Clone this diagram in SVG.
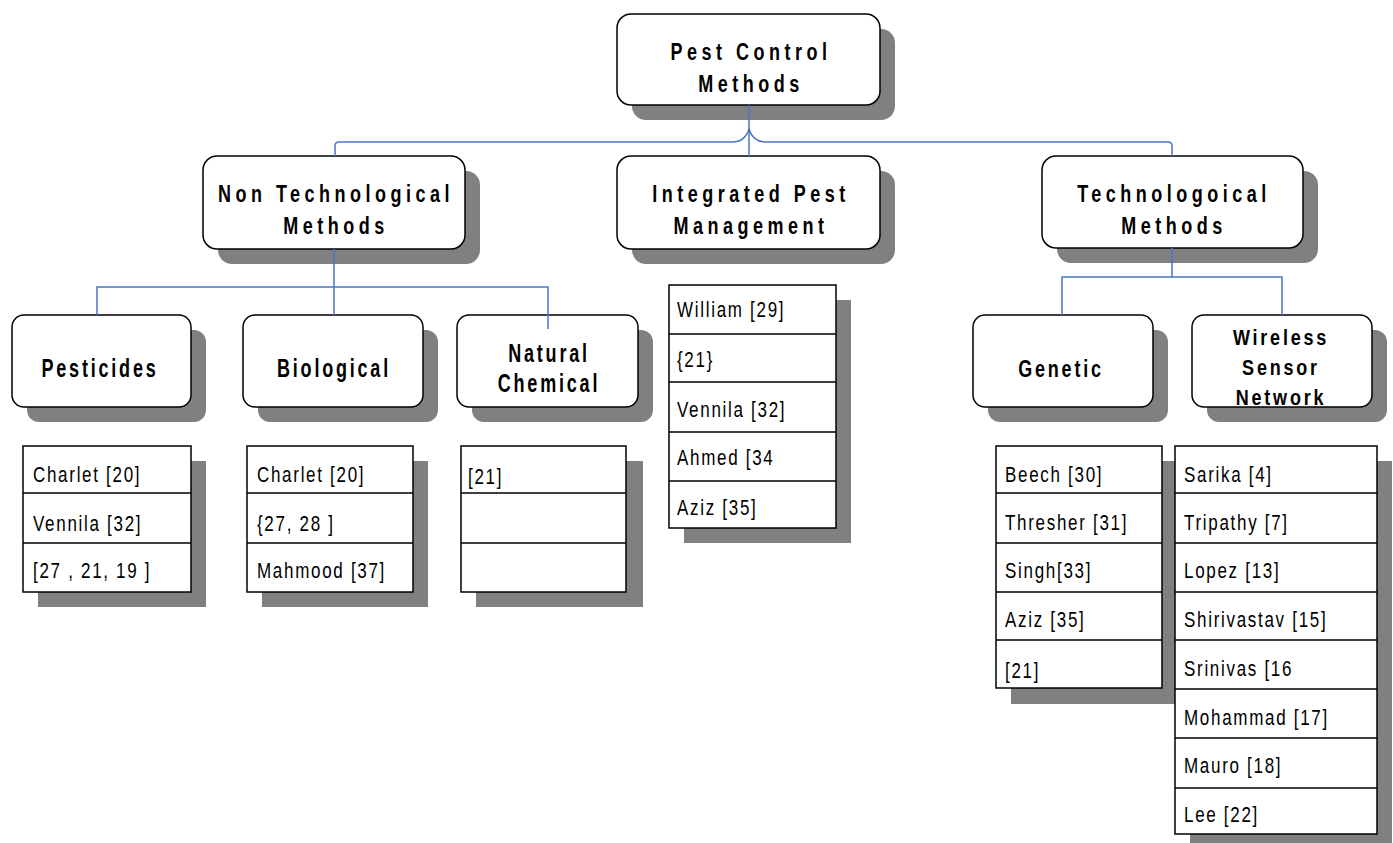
<svg xmlns="http://www.w3.org/2000/svg" width="1393" height="843" viewBox="0 0 1393 843">
<style>
.shadow{fill:#808080}
.node{fill:#fff;stroke:#000;stroke-width:1.5}
.cell{fill:#fff;stroke:#000;stroke-width:1.5}
.div{stroke:#000;stroke-width:1.5}
.title{font-family:"Liberation Sans",Arial,sans-serif;font-weight:bold;font-size:18px;fill:#000;text-anchor:middle;letter-spacing:4.5px}
.sub{font-family:"Liberation Sans",Arial,sans-serif;font-weight:bold;font-size:18px;fill:#000;text-anchor:middle;letter-spacing:2.8px}
.item{font-family:"Liberation Sans",Arial,sans-serif;font-size:17px;fill:#000;letter-spacing:1.7px}
.conn{fill:none;stroke:#4a76c5;stroke-width:1.5}
</style>
<rect width="1393" height="843" fill="#fff"/>

<g id="pest-control-methods">
<rect class="shadow" x="632" y="29" width="263" height="91" rx="14"/>
<rect class="node" x="617" y="14" width="263" height="91" rx="14"/>
<text class="title" transform="translate(751,60) scale(1,1.3)">Pest Control</text>
<text class="title" transform="translate(751,92) scale(1,1.3)">Methods</text>
</g>

<g id="non-technological-methods">
<rect class="shadow" x="218" y="171" width="262" height="93" rx="14"/>
<rect class="node" x="203" y="156" width="262" height="93" rx="14"/>
<text class="title" transform="translate(336,202) scale(1,1.3)">Non Technological</text>
<text class="title" transform="translate(336,234) scale(1,1.3)">Methods</text>
</g>

<g id="integrated-pest-management">
<rect class="shadow" x="632" y="171" width="263" height="93" rx="14"/>
<rect class="node" x="617" y="156" width="263" height="93" rx="14"/>
<text class="title" transform="translate(751,202) scale(1,1.3)">Integrated Pest</text>
<text class="title" transform="translate(751,234) scale(1,1.3)">Management</text>
</g>

<g id="technological-methods">
<rect class="shadow" x="1057" y="171" width="261" height="92" rx="14"/>
<rect class="node" x="1042" y="156" width="261" height="92" rx="14"/>
<text class="title" transform="translate(1174,202) scale(1,1.3)">Technologoical</text>
<text class="title" transform="translate(1174,234) scale(1,1.3)">Methods</text>
</g>

<g id="pesticides">
<rect class="shadow" x="27" y="330" width="179" height="92" rx="12"/>
<rect class="node" x="12" y="315" width="179" height="92" rx="12"/>
<text class="sub" transform="translate(100,377) scale(1,1.42)">Pesticides</text>
</g>

<g id="biological">
<rect class="shadow" x="258" y="330" width="180" height="92" rx="12"/>
<rect class="node" x="243" y="315" width="180" height="92" rx="12"/>
<text class="sub" transform="translate(334,377) scale(1,1.42)">Biological</text>
</g>

<g id="natural-chemical">
<rect class="shadow" x="472" y="330" width="181" height="92" rx="12"/>
<rect class="node" x="457" y="315" width="181" height="92" rx="12"/>
<text class="sub" transform="translate(549,362) scale(1,1.38)">Natural</text>
<text class="sub" transform="translate(549,392) scale(1,1.38)">Chemical</text>
</g>

<g id="genetic">
<rect class="shadow" x="988" y="330" width="180" height="92" rx="12"/>
<rect class="node" x="973" y="315" width="180" height="92" rx="12"/>
<text class="sub" transform="translate(1061,377) scale(1,1.32)">Genetic</text>
</g>

<g id="wireless-sensor-network">
<rect class="shadow" x="1207" y="330" width="180" height="92" rx="12"/>
<rect class="node" x="1192" y="315" width="180" height="92" rx="12"/>
<text class="sub" transform="translate(1281,345) scale(1,1.25)">Wireless</text>
<text class="sub" transform="translate(1281,375) scale(1,1.25)">Sensor</text>
<text class="sub" transform="translate(1281,405) scale(1,1.25)">Network</text>
</g>

<g id="pesticides-refs">
<rect class="shadow" x="38" y="461" width="168" height="146"/>
<rect class="cell" x="23" y="446" width="168" height="146"/>
<path class="div" d="M23 493H191M23 543H191"/>
<text class="item" transform="translate(33,482) scale(1,1.28)">Charlet [20]</text>
<text class="item" transform="translate(33,531) scale(1,1.28)">Vennila [32]</text>
<text class="item" transform="translate(33,578) scale(1,1.28)">[27 , 21, 19 ]</text>
</g>

<g id="biological-refs">
<rect class="shadow" x="262" y="461" width="166" height="146"/>
<rect class="cell" x="247" y="446" width="166" height="146"/>
<path class="div" d="M247 493H413M247 543H413"/>
<text class="item" transform="translate(257,482) scale(1,1.28)">Charlet [20]</text>
<text class="item" transform="translate(257,531) scale(1,1.28)">{27, 28 ]</text>
<text class="item" transform="translate(257,578) scale(1,1.28)">Mahmood [37]</text>
</g>

<g id="natural-chemical-refs">
<rect class="shadow" x="476" y="461" width="167" height="146"/>
<rect class="cell" x="461" y="446" width="165" height="146"/>
<path class="div" d="M461 493H626M461 543H626"/>
<text class="item" transform="translate(468,484) scale(1,1.28)">[21]</text>
</g>

<g id="ipm-refs">
<rect class="shadow" x="684" y="300" width="167" height="243"/>
<rect class="cell" x="669" y="285" width="167" height="243"/>
<path class="div" d="M669 334H836M669 382H836M669 432H836M669 481H836"/>
<text class="item" transform="translate(677,317) scale(1,1.28)">William [29]</text>
<text class="item" transform="translate(677,367) scale(1,1.28)">{21}</text>
<text class="item" transform="translate(677,417) scale(1,1.28)">Vennila [32]</text>
<text class="item" transform="translate(677,465) scale(1,1.28)">Ahmed [34</text>
<text class="item" transform="translate(677,515) scale(1,1.28)">Aziz [35]</text>
</g>

<g id="genetic-refs">
<rect class="shadow" x="1011" y="461" width="166" height="243"/>
<rect class="cell" x="996" y="446" width="166" height="242"/>
<path class="div" d="M996 493H1162M996 543H1162M996 592H1162M996 640H1162"/>
<text class="item" transform="translate(1005,482) scale(1,1.28)">Beech [30]</text>
<text class="item" transform="translate(1005,530) scale(1,1.28)">Thresher [31]</text>
<text class="item" transform="translate(1005,578) scale(1,1.28)">Singh[33]</text>
<text class="item" transform="translate(1005,627) scale(1,1.28)">Aziz [35]</text>
<text class="item" transform="translate(1005,678) scale(1,1.28)">[21]</text>
</g>

<g id="wsn-refs">
<rect class="shadow" x="1190" y="461" width="202" height="388"/>
<rect class="cell" x="1175" y="446" width="202" height="388"/>
<path class="div" d="M1175 493H1377M1175 543H1377M1175 592H1377M1175 640H1377M1175 689H1377M1175 738H1377M1175 788H1377"/>
<text class="item" transform="translate(1184,482) scale(1,1.28)">Sarika [4]</text>
<text class="item" transform="translate(1184,530) scale(1,1.28)">Tripathy [7]</text>
<text class="item" transform="translate(1184,578) scale(1,1.28)">Lopez [13]</text>
<text class="item" transform="translate(1184,627) scale(1,1.28)">Shirivastav [15]</text>
<text class="item" transform="translate(1184,676) scale(1,1.28)">Srinivas [16</text>
<text class="item" transform="translate(1184,725) scale(1,1.28)">Mohammad [17]</text>
<text class="item" transform="translate(1184,773) scale(1,1.28)">Mauro [18]</text>
<text class="item" transform="translate(1184,822) scale(1,1.28)">Lee [22]</text>
</g>

<g id="connectors">
<path class="conn" d="M749 105V156"/>
<path class="conn" d="M335 156V146Q335 142 339 142H732Q745 142 749 129Q753 142 766 142H1168Q1172 142 1172 146V156"/>
<path class="conn" d="M334 249V287"/>
<path class="conn" d="M97 315V287H548V329"/>
<path class="conn" d="M334 287V315"/>
<path class="conn" d="M1172 248V277"/>
<path class="conn" d="M1062 315V277H1282V315"/>
</g>
</svg>
